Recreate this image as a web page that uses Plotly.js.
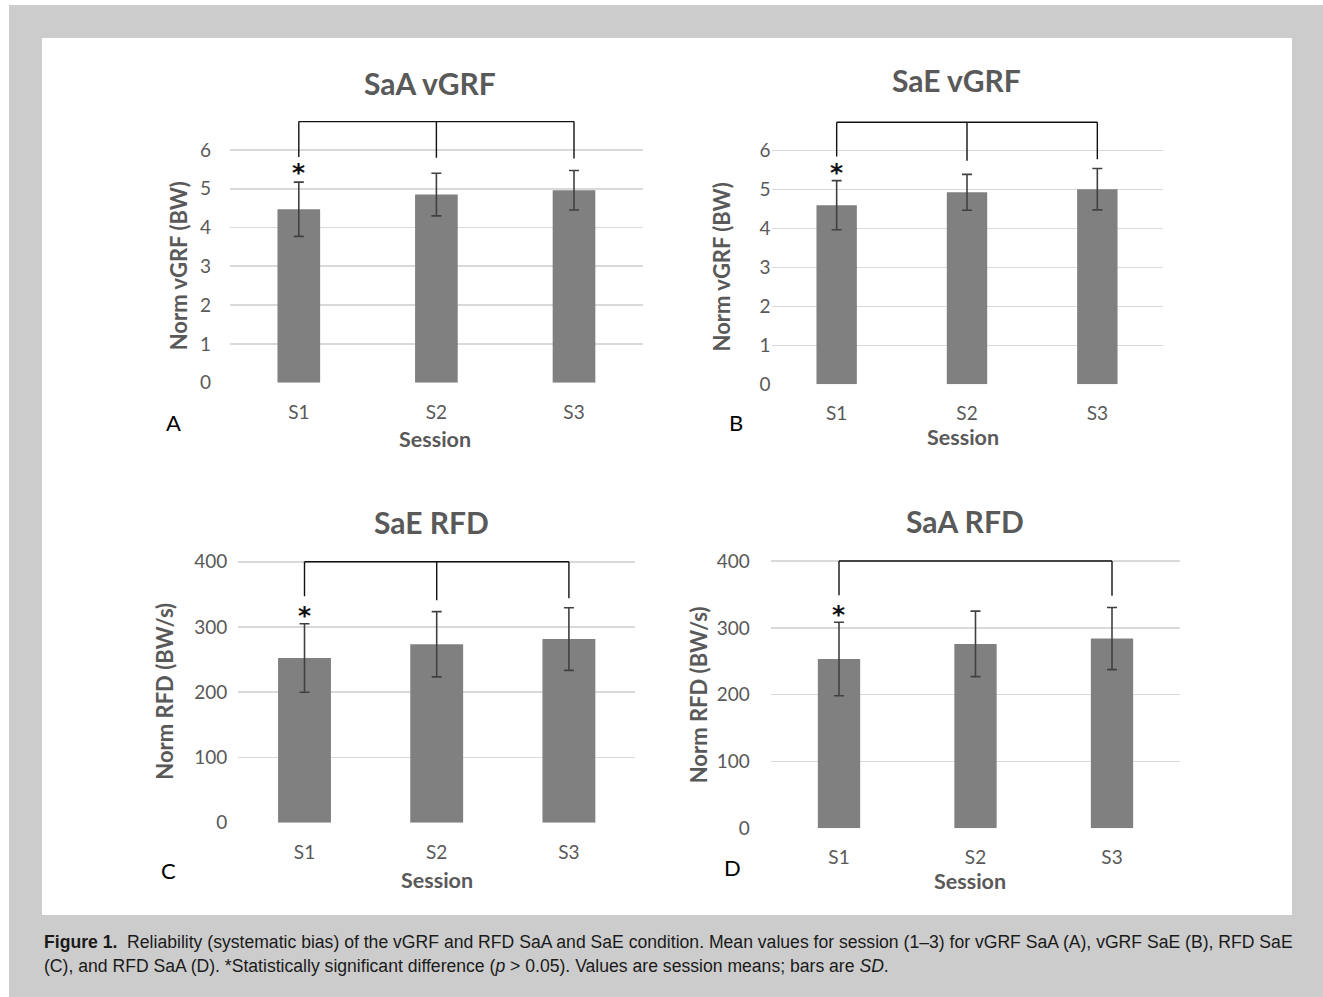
<!DOCTYPE html>
<html>
<head>
<meta charset="utf-8">
<script src="https://cdn.plot.ly/plotly-3.0.1.min.js"></script>
<style>html,body{margin:0;padding:0;background:#fff;}#chart{width:1323px;height:997px;}</style>
</head>
<body>
<div id="chart"></div>
<script>
// ---------- data ----------
const sessions = ['S1', 'S2', 'S3'];

const vgrfSaA_mean = [4.47, 4.85, 4.96];
const vgrfSaA_sd   = [0.70, 0.55, 0.51];

const vgrfSaE_mean = [4.60, 4.93, 5.01];
const vgrfSaE_sd   = [0.63, 0.46, 0.53];

const rfdSaE_mean = [252.5, 273.5, 281.5];
const rfdSaE_sd   = [52.5, 50.0, 48.0];

const rfdSaA_mean = [253.5, 276.0, 284.0];
const rfdSaA_sd   = [55.0, 49.0, 46.5];

// significance brackets (top level, leg ends per session; null = no leg)
const bracketA = {top: 6.73, ends: [5.82, 5.80, 5.78]};
const bracketB = {top: 6.73, ends: [5.85, 5.74, 5.78]};
const bracketC = {top: 400, ends: [347, 341, 344]};
const bracketD = {top: 400, ends: [349, null, 348]};
const starLevel = {A: 5.48, B: 5.49, C: 321, D: 323};

const titles = {A: 'SaA vGRF', B: 'SaE vGRF', C: 'SaE RFD', D: 'SaA RFD'};
const yTitles = {A: 'Norm vGRF (BW)', B: 'Norm vGRF (BW)', C: 'Norm RFD (BW/s)', D: 'Norm RFD (BW/s)'};
const xTitle = 'Session';
const vgrfTicks = [0, 1, 2, 3, 4, 5, 6];
const rfdTicks = [0, 100, 200, 300, 400];

// ---------- layout geometry (pixels) ----------
const W = 1323, H = 997;
const FONT = 'Lato, "Open Sans", sans-serif';
const GRAY_TXT = '#595959';
function xd(a, b) { return [a / W, b / W]; }
function yd(top, bottom) { return [1 - bottom / H, 1 - top / H]; }

const panels = [
  {k: 'A', xa: 'x',  ya: 'y',  mean: vgrfSaA_mean, sd: vgrfSaA_sd, br: bracketA, ticks: vgrfTicks, range: [0, 7],
   xdom: xd(230, 642.8), ydom: yd(111.1, 382.7), bw: 0.31, ystand: 18,
   title: [430, 82.5], ytitle: [178.3, 266], letter: [174, 422], xtitle: [435, 439.5]},
  {k: 'B', xa: 'x2', ya: 'y2', mean: vgrfSaE_mean, sd: vgrfSaE_sd, br: bracketB, ticks: vgrfTicks, range: [0, 7],
   xdom: xd(771.5, 1162.5), ydom: yd(111.7, 384.3), bw: 0.31, ystand: 19.5,
   title: [956, 80], ytitle: [721.7, 266.7], letter: [736, 422], xtitle: [962.8, 437]},
  {k: 'C', xa: 'x3', ya: 'y3', mean: rfdSaE_mean, sd: rfdSaE_sd, br: bracketC, ticks: rfdTicks, range: [0, 420],
   xdom: xd(238.4, 635), ydom: yd(548.7, 822.7), bw: 0.40, ystand: 10,
   title: [432, 522], ytitle: [165, 691.7], letter: [168, 870], xtitle: [436.7, 879.5]},
  {k: 'D', xa: 'x4', ya: 'y4', mean: rfdSaA_mean, sd: rfdSaA_sd, br: bracketD, ticks: rfdTicks, range: [0, 420],
   xdom: xd(770.75, 1180.25), ydom: yd(547.7, 828.3), bw: 0.31, ystand: 20,
   title: [965, 521], ytitle: [698.3, 695], letter: [732, 867], xtitle: [970, 881]}
];

const traces = [];
const shapes = [
  {type: 'rect', xref: 'paper', yref: 'paper', x0: 9 / W, x1: 1, y0: 0, y1: 1 - 5 / H,
   fillcolor: '#cccccc', line: {width: 0}, layer: 'below'},
  {type: 'rect', xref: 'paper', yref: 'paper', x0: 42 / W, x1: 1292 / W, y0: 1 - 915 / H, y1: 1 - 38 / H,
   fillcolor: '#ffffff', line: {width: 0}, layer: 'below'}
];
const annotations = [];
const layout = {
  width: W, height: H,
  margin: {l: 0, r: 0, t: 0, b: 0},
  paper_bgcolor: '#ffffff',
  plot_bgcolor: 'rgba(0,0,0,0)',
  showlegend: false,
  font: {family: FONT, color: GRAY_TXT},
  shapes: shapes,
  annotations: annotations
};

panels.forEach(function (p) {
  traces.push({
    type: 'bar', x: sessions, y: p.mean, xaxis: p.xa, yaxis: p.ya, width: p.bw,
    marker: {color: '#808080', line: {width: 0}},
    error_y: {type: 'data', array: p.sd, visible: true, color: '#404040', thickness: 1.6, width: 5},
    hoverinfo: 'x+y'
  });
  const xKey = 'xaxis' + p.xa.slice(1);
  const yKey = 'yaxis' + p.ya.slice(1);
  layout[xKey] = {
    domain: p.xdom, anchor: p.ya, type: 'category', range: [-0.5, 2.5],
    showgrid: false, zeroline: false, showline: false, ticks: '',
    tickfont: {family: FONT, size: 19, color: GRAY_TXT}, ticklabelstandoff: 16,
    fixedrange: true
  };
  layout[yKey] = {
    domain: p.ydom, anchor: p.xa, range: p.range, tickmode: 'array', tickvals: p.ticks,
    showgrid: true, gridcolor: '#d9d9d9', gridwidth: 1.6, zeroline: false, showline: false, ticks: '',
    tickfont: {family: FONT, size: 19, color: GRAY_TXT}, ticklabelstandoff: p.ystand,
    fixedrange: true
  };
  // bracket
  const xr = p.xa, yr = p.ya;
  const ends = p.br.ends;
  let first = -1, last = -1;
  ends.forEach(function (e, i) { if (e !== null) { if (first < 0) first = i; last = i; } });
  shapes.push({type: 'line', xref: xr, yref: yr, x0: first, x1: last, y0: p.br.top, y1: p.br.top,
    line: {color: '#111111', width: 1.4}});
  ends.forEach(function (e, i) {
    if (e === null) return;
    shapes.push({type: 'line', xref: xr, yref: yr, x0: i, x1: i, y0: p.br.top, y1: e,
      line: {color: '#111111', width: 1.4}});
  });
  // significance star
  annotations.push({xref: xr, yref: yr, x: 0, y: starLevel[p.k], text: '<b>*</b>', showarrow: false,
    yshift: -2, font: {family: '"DejaVu Sans", sans-serif', size: 25, color: '#111111'}});
  // panel title
  annotations.push({xref: 'paper', yref: 'paper', x: p.title[0] / W, y: 1 - p.title[1] / H,
    xanchor: 'center', yanchor: 'middle', showarrow: false, text: '<b>' + titles[p.k] + '</b>',
    font: {family: FONT, size: 30, color: GRAY_TXT}});
  // y-axis title
  annotations.push({xref: 'paper', yref: 'paper', x: p.ytitle[0] / W, y: 1 - p.ytitle[1] / H,
    xanchor: 'center', yanchor: 'middle', showarrow: false, textangle: -90, text: '<b>' + yTitles[p.k] + '</b>',
    font: {family: FONT, size: 22, color: GRAY_TXT}});
  // x-axis title
  annotations.push({xref: 'paper', yref: 'paper', x: p.xtitle[0] / W, y: 1 - p.xtitle[1] / H,
    xanchor: 'center', yanchor: 'middle', showarrow: false, text: '<b>' + xTitle + '</b>',
    font: {family: FONT, size: 21.5, color: GRAY_TXT}});
  // panel letter
  annotations.push({xref: 'paper', yref: 'paper', x: p.letter[0] / W, y: 1 - p.letter[1] / H,
    xanchor: 'center', yanchor: 'middle', showarrow: false, text: p.k,
    font: {family: FONT, size: 22, color: '#000000'}});
});

// caption
const CAP_FONT = '"Liberation Sans", Arial, sans-serif';
annotations.push({xref: 'paper', yref: 'paper', x: 42 / W, y: 1 - 941.7 / H, xanchor: 'left', yanchor: 'middle',
  showarrow: false, align: 'left',
  text: '<b>Figure 1.</b>  Reliability (systematic bias) of the vGRF and RFD SaA and SaE condition. Mean values for session (1\u20133) for vGRF SaA (A), vGRF SaE (B), RFD SaE',
  font: {family: CAP_FONT, size: 17.6, color: '#1a1a1a'}});
annotations.push({xref: 'paper', yref: 'paper', x: 42 / W, y: 1 - 965.7 / H, xanchor: 'left', yanchor: 'middle',
  showarrow: false, align: 'left',
  text: '(C), and RFD SaA (D). *Statistically significant difference (<i>p</i> &gt; 0.05). Values are session means; bars are <i>SD</i>.',
  font: {family: CAP_FONT, size: 17.6, color: '#1a1a1a'}});

Plotly.newPlot('chart', traces, layout, {staticPlot: true, displayModeBar: false});
</script>
</body>
</html>
